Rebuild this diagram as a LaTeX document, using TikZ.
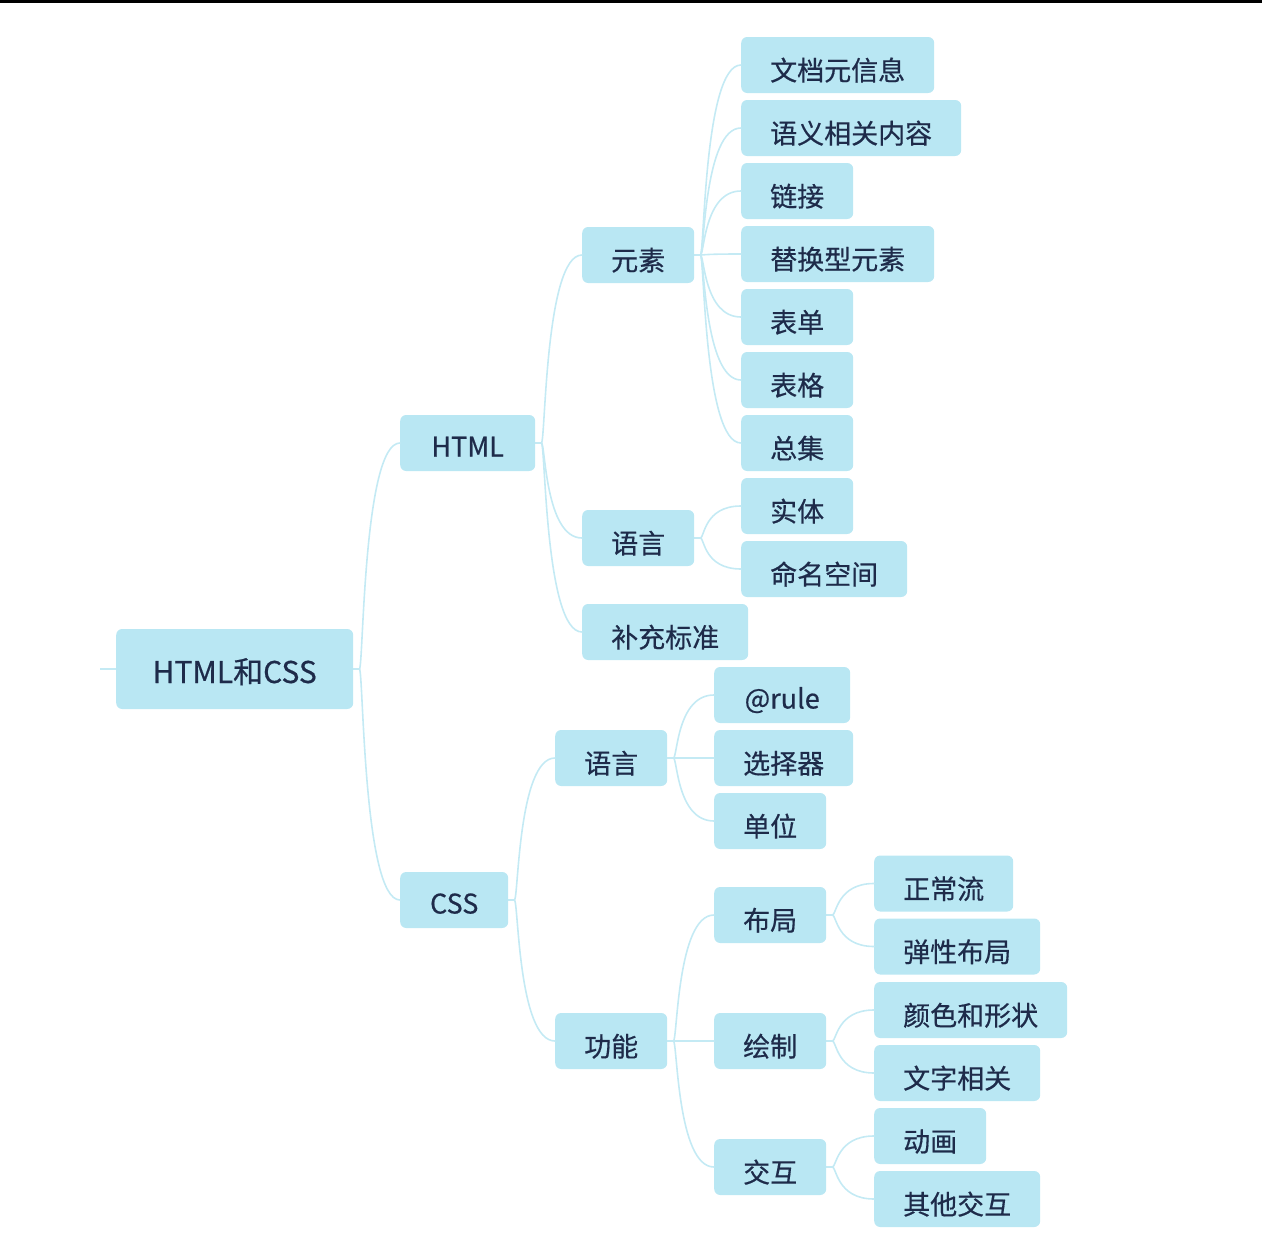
\documentclass[tikz,border=0pt]{standalone}
\usepackage{fontspec}
\setmainfont{Noto Sans CJK SC}
\newfontfamily\boxfont{Noto Sans CJK SC}[FakeBold=0.5]
\usepackage{tikz}
\definecolor{boxfill}{HTML}{B9E7F3}
\definecolor{linkc}{HTML}{C4EAF4}
\definecolor{ink}{HTML}{1E2B4A}
\tikzset{
  topic/.style={fill=boxfill, rounded corners=6pt, anchor=west, minimum height=56, inner xsep=29pt, inner ysep=0pt,
    text height=31pt, text depth=0pt, text=ink, font=\boxfont\fontsize{27}{30}\selectfont},
  latin/.style={topic, text height=27pt},
  root/.style={topic, minimum height=80, text height=28pt, font=\boxfont\fontsize{30}{34}\selectfont},
  link/.style={draw=linkc, line width=1.6pt, line cap=round, to path={-- ++(6,0) .. controls +(4,0) and +(-37,0) .. (\tikztotarget) \tikztonodes}},
}
\begin{document}
\begin{tikzpicture}[x=1pt,y=-1pt]
  \useasboundingbox (0,0) rectangle (1262,1242);
  \fill[black] (0,0) rectangle (1262,3);
  % levels 0 and 1
  \node[root, minimum width=237] (root) at (116,669) {HTML和CSS};
  \node[latin, minimum width=135] (html) at (400,443) {HTML};
  \node[latin, minimum width=108] (css) at (400,900) {CSS};
  \coordinate (stub) at (100,669);
  % HTML
  \node[topic] (elem) at (582,255) {元素};
  \node[topic] (hlang) at (582,538) {语言};
  \node[topic] (supp) at (582,632) {补充标准};
  \node[topic] (meta) at (741,65) {文档元信息};
  \node[topic] (sem) at (741,128) {语义相关内容};
  \node[topic] (link) at (741,191) {链接};
  \node[topic] (repl) at (741,254) {替换型元素};
  \node[topic] (form) at (741,317) {表单};
  \node[topic] (table) at (741,380) {表格};
  \node[topic] (coll) at (741,443) {总集};
  \node[topic] (ent) at (741,506) {实体};
  \node[topic] (ns) at (741,569) {命名空间};
  % CSS
  \node[topic] (clang) at (555,758) {语言};
  \node[topic] (func) at (555,1041) {功能};
  \node[latin, minimum width=136] (rule) at (714,695) {@rule};
  \node[topic] (sel) at (714,758) {选择器};
  \node[topic] (unit) at (714,821) {单位};
  \node[topic] (lay) at (714,915) {布局};
  \node[topic] (paint) at (714,1041) {绘制};
  \node[topic] (inter) at (714,1167) {交互};
  \node[topic] (flow) at (874,883.5) {正常流};
  \node[topic] (flex) at (874,946.5) {弹性布局};
  \node[topic] (color) at (874,1010) {颜色和形状};
  \node[topic] (text) at (874,1073) {文字相关};
  \node[topic] (anim) at (874,1136) {动画};
  \node[topic] (other) at (874,1199) {其他交互};
  % connectors
  \draw[draw=linkc, line width=1.6pt] (stub) -- (root.west);
  \foreach \a/\b in {root/html, root/css, html/elem, html/hlang, html/supp,
    elem/meta, elem/sem, elem/link, elem/repl, elem/form, elem/table, elem/coll,
    hlang/ent, hlang/ns, css/clang, css/func, clang/rule, clang/sel, clang/unit,
    func/lay, func/paint, func/inter, lay/flow, lay/flex, paint/color, paint/text,
    inter/anim, inter/other}
    \draw[link] (\a.east) to (\b.west);
\end{tikzpicture}
\end{document}
